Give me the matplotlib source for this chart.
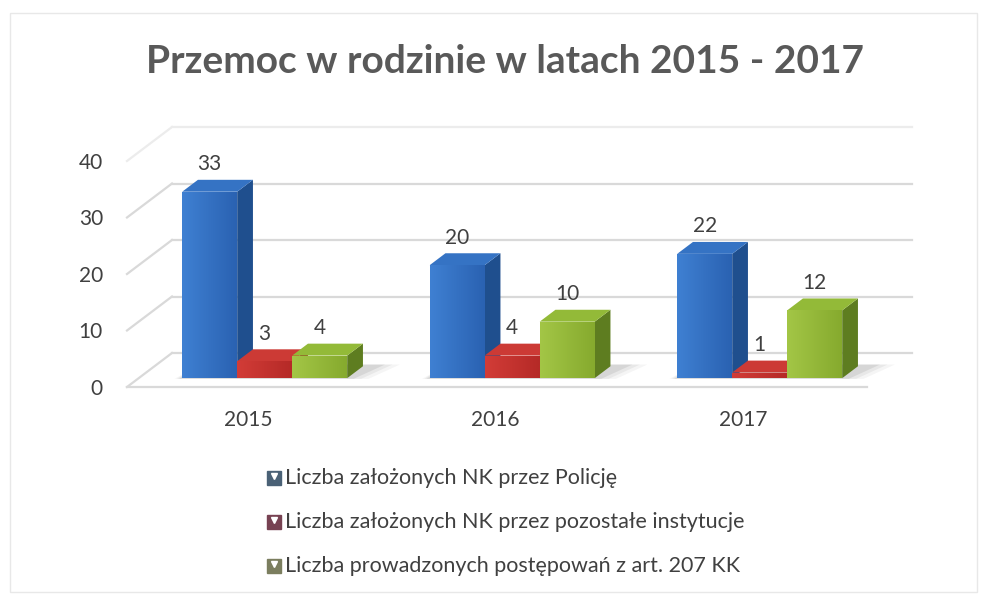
import numpy as np
import matplotlib.pyplot as plt
from matplotlib.patches import Polygon, Rectangle
from matplotlib.colors import LinearSegmentedColormap
from matplotlib.lines import Line2D

plt.rcParams['font.family'] = ['Lato', 'DejaVu Sans']

# dane
years = ['2015', '2016', '2017']
police = [33, 20, 22]
other = [3, 4, 1]
art207 = [4, 10, 12]
names = ['Liczba założonych NK przez Policję',
         'Liczba założonych NK przez pozostałe instytucje',
         'Liczba prowadzonych postępowań z art. 207 KK']
ticks = [0, 10, 20, 30, 40]

W, H = 981, 599
fig = plt.figure(figsize=(W / 100, H / 100), dpi=100)
ax = fig.add_axes([0, 0, 1, 1])

# rzut "3d": piksele na jednostke
cat_px = 247.5
unit_px = 5.65
ox, oy = 253, 387
ax.set_xlim(-ox / cat_px, (W - ox) / cat_px)
ax.set_ylim(-(H - oy) / unit_px, oy / unit_px)
ax.axis('off')

DX = 45 / cat_px
DV = 34 / unit_px


def P(x, v, z):
    return (x + z * DX, v + z * DV)


x_left = (127 - ox) / cat_px
x_right = (867 - ox) / cat_px

# sciany / siatka
grid_c = '#d9d9d9'
for t in ticks:
    c = '#ececec' if t == 40 else grid_c
    a, b = P(x_left, t, 0), P(x_left, t, 1)
    ax.plot([a[0], b[0]], [a[1], b[1]], color=c, lw=1.6, zorder=1)
    b2 = P(x_right, t, 1)
    ax.plot([b[0], b2[0]], [b[1], b2[1]], color=c, lw=1.6, zorder=1)
a, b = P(x_left, 0, 0), P(x_right, 0, 0)
ax.plot([a[0], b[0]], [a[1], b[1]], color=grid_c, lw=1.6, zorder=1)

# slupki
w = 55 / cat_px
z0, z1 = 0.26, 0.61
series = [police, other, art207]
front = [('#3f80d2', '#2a62b2'), ('#d23c37', '#b52a27'), ('#a3c646', '#86aa2e')]
tops = ['#3573c4', '#cc3a35', '#93ba38']
sides = ['#1f4f8e', '#8f1f1c', '#5e7d20']
offs = [-w, 0, w]

zo = 3
for i in range(len(years)):
    # cien pod grupa
    ga = i - 1.5 * w
    gb = i + 1.5 * w
    for e, al in [(0.09, 0.05), (0.06, 0.07), (0.03, 0.10)]:
        pts = [P(ga - e * 0.3, 0, z0 - 0.02), P(gb + e, 0, z0 - 0.02),
               P(gb + e + 0.05, 0, z1 + 0.05), P(ga, 0, z1 + 0.05)]
        ax.add_patch(Polygon(pts, closed=True, color='#404040', alpha=al,
                             lw=0, zorder=2))
    for s in range(3):
        v = series[s][i]
        xc = i + offs[s]
        xa, xb = xc - w / 2, xc + w / 2
        side = Polygon([P(xb, 0, z0), P(xb, v, z0), P(xb, v, z1), P(xb, 0, z1)],
                       closed=True, fc=sides[s], ec='none', zorder=zo)
        top = Polygon([P(xa, v, z0), P(xb, v, z0), P(xb, v, z1), P(xa, v, z1)],
                      closed=True, fc=tops[s], ec='none', zorder=zo)
        ax.add_patch(side)
        ax.add_patch(top)
        bars = ax.bar(xc + z0 * DX, v, width=w, bottom=z0 * DV,
                      color=front[s][1], lw=0, zorder=zo)
        cmap = LinearSegmentedColormap.from_list('g', [front[s][0], front[s][1]])
        grad = np.linspace(0, 1, 64).reshape(1, -1)
        im = ax.imshow(grad, cmap=cmap, aspect='auto', zorder=zo + 0.5,
                       extent=[xa + z0 * DX, xb + z0 * DX, z0 * DV, z0 * DV + v])
        im.set_clip_path(bars[0])
        zo += 1
        # etykiety wartosci
        ax.text(xc + z0 * DX, v + z1 * DV + 1.0, str(v), ha='center',
                va='bottom', fontsize=15, color='#404040', zorder=20)

ax.set_xlim(-ox / cat_px, (W - ox) / cat_px)
ax.set_ylim(-(H - oy) / unit_px, oy / unit_px)

# osie - etykiety
for t in ticks:
    ax.text((103 - ox) / cat_px, t - 0.35, str(t), ha='right', va='center',
            fontsize=15, color='#404040')
for i, y in enumerate(years):
    ax.text(i - 0.02, -33 / unit_px, y, ha='center', va='center',
            fontsize=15, color='#404040')

# tytul
fig.text(505 / W, 1 - 73 / H, 'Przemoc w rodzinie w latach 2015 - 2017',
         ha='center', va='baseline', fontsize=28, fontweight='bold',
         color='#595959')

# legenda
leg_c = ['#4a6176', '#774252', '#7b7e5f']
for k, name in enumerate(names):
    yy = 1 - (478 + 44 * k) / H
    fig.add_artist(Line2D([274 / W], [yy], marker='s', markersize=10,
                          color=leg_c[k], lw=0, transform=fig.transFigure))
    fig.add_artist(Line2D([274 / W], [yy + 2 / H], marker='v', markersize=4,
                          color='white', lw=0, transform=fig.transFigure))
    fig.text(285 / W, yy, name, ha='left', va='center', fontsize=15.5,
             color='#404040')

# ramka wykresu
fig.add_artist(Rectangle((10 / W, 1 - 592 / H), 967 / W, 579 / H,
                         transform=fig.transFigure, fill=False,
                         ec='#e8e8e8', lw=1))

fig.savefig('out.png', dpi=100)
